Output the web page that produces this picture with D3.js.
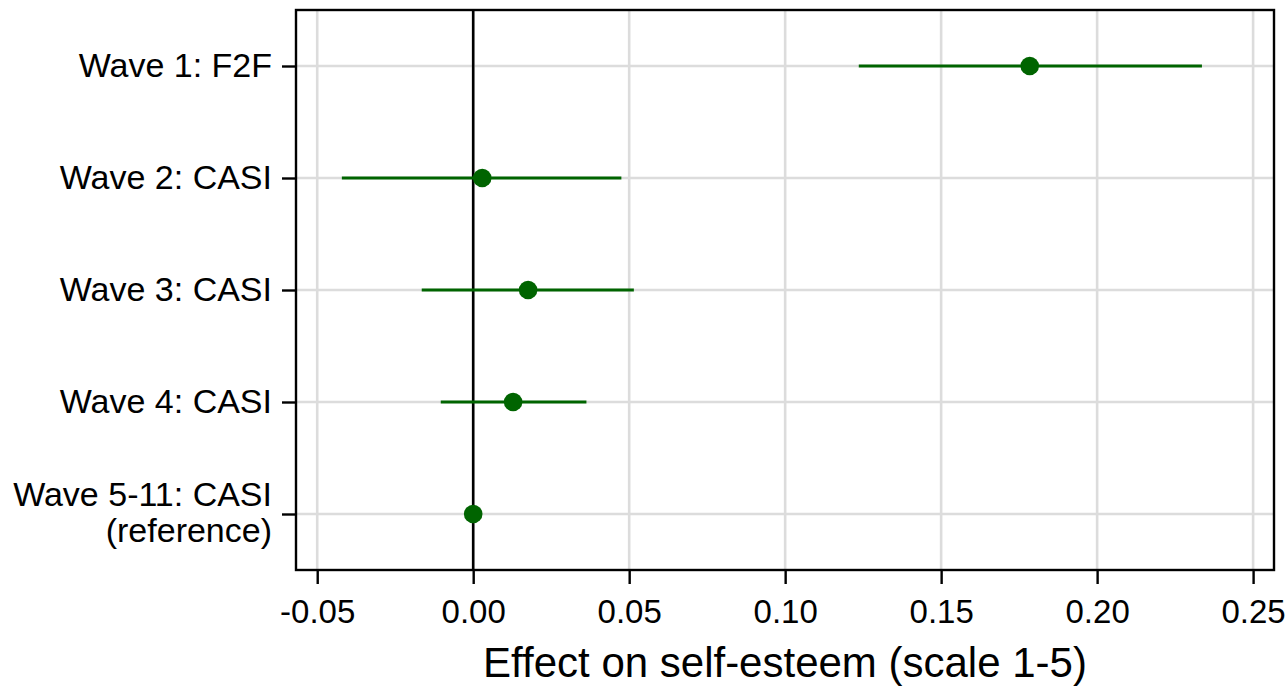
<!DOCTYPE html>
<html>
<head>
<meta charset="utf-8">
<script src="https://cdn.jsdelivr.net/npm/d3@7"></script>
<style>
  html, body { margin: 0; padding: 0; background: #fff; }
  svg text { font-family: "Liberation Sans", Arial, sans-serif; fill: #000; }
</style>
</head>
<body>
<div id="chart"></div>
<script>
const waves = ['Wave 1: F2F', 'Wave 2: CASI', 'Wave 3: CASI', 'Wave 4: CASI', 'Wave 5-11: CASI|(reference)'];
const estimates = [0.1784, 0.0029, 0.0176, 0.0128, 0.0];
const lower = [0.1236, -0.0421, -0.0165, -0.0104, 0.0];
const upper = [0.2336, 0.0475, 0.0515, 0.0363, 0.0];
const xTicks = [-0.05, 0, 0.05, 0.10, 0.15, 0.20, 0.25];

const width = 1287;
const height = 688;
const margin = { top: 10, right: 13, bottom: 118, left: 296 };

const rows = waves.map((w, i) => ({
  label: w,
  est: estimates[i],
  lo: lower[i],
  hi: upper[i],
}));

const svg = d3.select('#chart')
  .append('svg')
  .attr('width', width)
  .attr('height', height);

const xScale = d3.scaleLinear()
  .domain([-0.0568, 0.2567])
  .range([margin.left, width - margin.right]);

const yScale = d3.scalePoint()
  .domain(waves)
  .range([margin.top, height - margin.bottom])
  .padding(0.5);

const green = '#006400';

// gridlines
svg.append('g')
  .selectAll('line')
  .data(xTicks)
  .join('line')
  .attr('x1', (d) => xScale(d))
  .attr('x2', (d) => xScale(d))
  .attr('y1', margin.top)
  .attr('y2', height - margin.bottom)
  .attr('stroke', '#dcdcdc')
  .attr('stroke-width', 2.6);

svg.append('g')
  .selectAll('line')
  .data(waves)
  .join('line')
  .attr('x1', margin.left)
  .attr('x2', width - margin.right)
  .attr('y1', (d) => yScale(d))
  .attr('y2', (d) => yScale(d))
  .attr('stroke', '#dcdcdc')
  .attr('stroke-width', 2.6);

// zero reference line
svg.append('line')
  .attr('x1', xScale(0))
  .attr('x2', xScale(0))
  .attr('y1', margin.top)
  .attr('y2', height - margin.bottom)
  .attr('stroke', '#000')
  .attr('stroke-width', 2.6);

// confidence intervals
svg.append('g')
  .selectAll('line')
  .data(rows)
  .join('line')
  .attr('x1', (d) => xScale(d.lo))
  .attr('x2', (d) => xScale(d.hi))
  .attr('y1', (d) => yScale(d.label))
  .attr('y2', (d) => yScale(d.label))
  .attr('stroke', green)
  .attr('stroke-width', 3);

// points
svg.append('g')
  .selectAll('circle')
  .data(rows)
  .join('circle')
  .attr('cx', (d) => xScale(d.est))
  .attr('cy', (d) => yScale(d.label))
  .attr('r', 9.3)
  .attr('fill', green);

// frame
svg.append('rect')
  .attr('x', margin.left)
  .attr('y', margin.top)
  .attr('width', width - margin.left - margin.right)
  .attr('height', height - margin.top - margin.bottom)
  .attr('fill', 'none')
  .attr('stroke', '#000')
  .attr('stroke-width', 2.4);

// x axis
const xAxis = svg.append('g')
  .attr('transform', `translate(0, ${height - margin.bottom})`)
  .call(d3.axisBottom(xScale)
    .tickValues(xTicks)
    .tickSize(14)
    .tickPadding(16));
xAxis.select('.domain').remove();
xAxis.selectAll('line').attr('stroke', '#000').attr('stroke-width', 2.4);
xAxis.selectAll('text')
  .attr('font-size', 33)
  .attr('font-family', '"Liberation Sans", Arial, sans-serif')
  .attr('fill', '#000')
  .text((d) => d3.format('.2f')(d).replace('−', '-'));

// y axis
const yAxis = svg.append('g')
  .attr('transform', `translate(${margin.left}, 0)`)
  .call(d3.axisLeft(yScale).tickSize(14).tickPadding(10));
yAxis.select('.domain').remove();
yAxis.selectAll('line').attr('stroke', '#000').attr('stroke-width', 2.4);
yAxis.selectAll('text')
  .attr('font-size', 34)
  .attr('font-family', '"Liberation Sans", Arial, sans-serif')
  .attr('fill', '#000')
  .each(function (d) {
    const parts = d.split('|');
    const t = d3.select(this).text(null);
    if (parts.length === 1) {
      t.text(parts[0]);
    } else {
      t.attr('dy', null);
      t.append('tspan').attr('x', -24).attr('y', -9).text(parts[0]);
      t.append('tspan').attr('x', -24).attr('y', 27).text(parts[1]);
    }
  });

// x title
svg.append('text')
  .attr('x', (margin.left + width - margin.right) / 2)
  .attr('y', 677)
  .attr('text-anchor', 'middle')
  .attr('font-size', 42)
  .text('Effect on self-esteem (scale 1-5)');
</script>
</body>
</html>
